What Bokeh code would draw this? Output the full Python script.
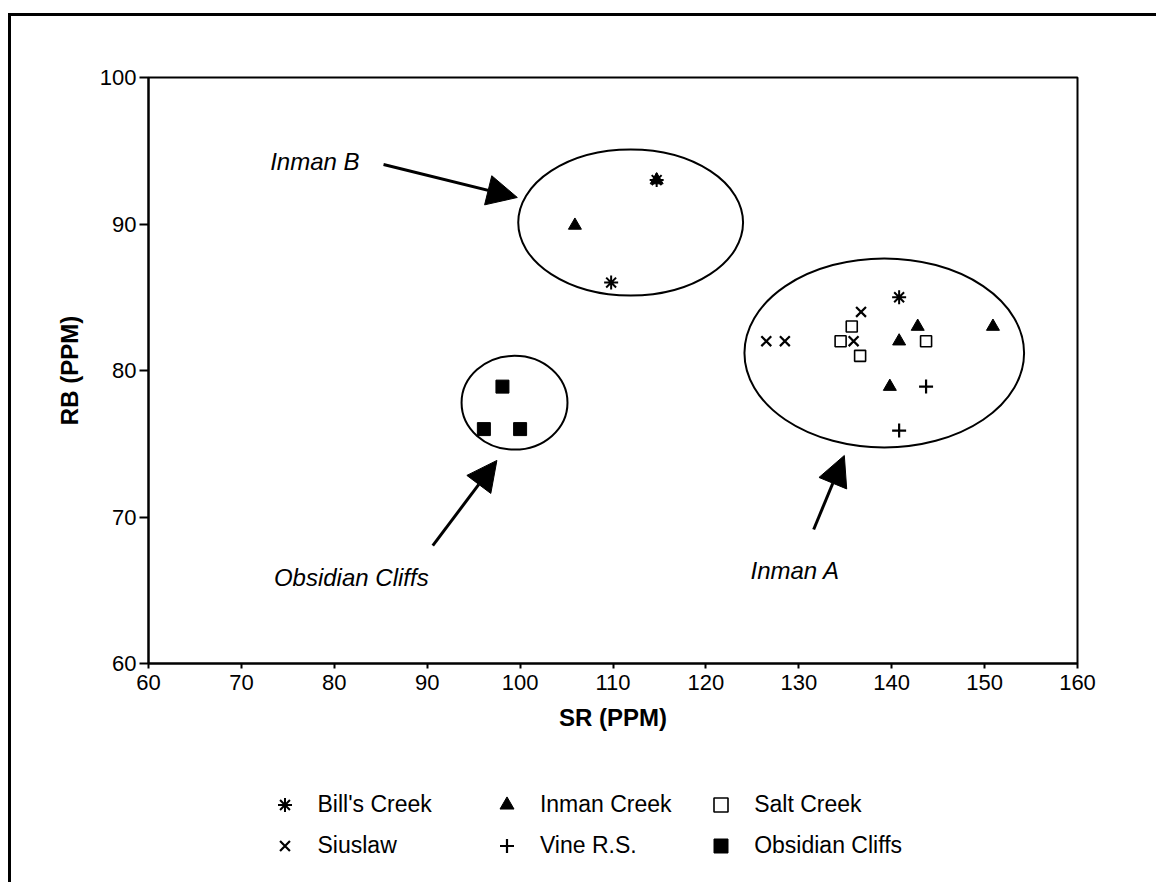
from bokeh.plotting import figure
from bokeh.layouts import column
from bokeh.models import Arrow, NormalHead, Legend, LegendItem, FixedTicker, Range1d
from bokeh.core.properties import value
from bokeh.embed import file_html
from bokeh.resources import INLINE

FONT = "Liberation Sans"

# ---- data (SR ppm, RB ppm) ----
bills_sr = [114.7, 109.8, 140.8]
bills_rb = [93.0, 86.0, 85.0]
inman_sr = [114.7, 105.9, 142.8, 150.9, 140.8, 139.8]
inman_rb = [93.0, 89.9, 83.0, 83.0, 82.0, 78.9]
salt_sr = [135.7, 134.5, 136.6, 143.7]
salt_rb = [83.0, 82.0, 81.0, 82.0]
siuslaw_sr = [136.7, 126.5, 128.5, 135.9]
siuslaw_rb = [84.0, 82.0, 82.0, 82.0]
vine_sr = [143.7, 140.8]
vine_rb = [78.9, 75.9]
obsidian_sr = [98.1, 96.1, 100.0]
obsidian_rb = [78.9, 76.0, 76.0]

# ---- group ellipses ----
group_names = ["Inman B", "Inman A", "Obsidian Cliffs"]
ell_x = [111.9, 139.2, 99.4]
ell_y = [90.1, 81.2, 77.8]
ell_w = [24.2, 30.1, 11.4]
ell_h = [9.97, 12.9, 6.4]

# ---- annotation labels and arrows ----
label_x = [73.1, 124.8, 73.5]
label_y = [94.3, 66.35, 65.87]
arrow_x0 = [85.3, 131.6, 90.6]
arrow_y0 = [94.06, 69.15, 68.05]
arrow_x1 = [99.7, 134.9, 97.5]
arrow_y1 = [91.81, 74.2, 73.86]

x_ticks = [60, 70, 80, 90, 100, 110, 120, 130, 140, 150, 160]
y_ticks = [60, 70, 80, 90, 100]

legend_names = ["Bill's Creek", "Inman Creek", "Salt Creek", "Siuslaw", "Vine R.S.", "Obsidian Cliffs"]
# trailing spaces widen the first two legend columns to match the reference spacing
legend_pad = [8, 4, 0, 0, 0, 0]
legend_marker_size = [16, 17, 14, 16, 17, 15]

p = figure(width=1145, height=734, output_backend="svg", toolbar_location=None,
           x_range=Range1d(60, 160), y_range=Range1d(60, 100),
           min_border_left=137, min_border_right=79, min_border_top=61, min_border_bottom=87,
           x_axis_label="SR (PPM)", y_axis_label="RB (PPM)")
p.grid.visible = False
p.outline_line_color = "black"
p.outline_line_width = 2
p.background_fill_color = "white"
p.border_fill_color = "white"

for ax in (p.xaxis[0], p.yaxis[0]):
    ax.axis_line_width = 2
    ax.major_tick_line_width = 2
    ax.minor_tick_line_color = None
    ax.major_tick_in = 0
    ax.major_label_text_font = FONT
    ax.major_label_text_font_size = "22px"
    ax.major_label_text_color = "black"
    ax.axis_label_text_font = FONT
    ax.axis_label_text_font_style = "bold"
    ax.axis_label_text_font_size = "24px"
    ax.axis_label_text_color = "black"
p.xaxis.ticker = FixedTicker(ticks=x_ticks)
p.yaxis.ticker = FixedTicker(ticks=y_ticks)
p.xaxis.major_tick_out = 5
p.xaxis.major_label_standoff = 6
p.xaxis.axis_label_standoff = 11
p.yaxis.major_tick_out = 9
p.yaxis.major_label_standoff = 3
p.yaxis.axis_label_standoff = 14

# ellipses
p.ellipse(x=ell_x, y=ell_y, width=ell_w, height=ell_h, fill_color=None,
          line_color="black", line_width=2)

# marker styles shared by plot and legend
styles = [
    dict(marker="asterisk", size=14, line_color="black", line_width=2),
    dict(marker="triangle", size=13, fill_color="black", line_color="black"),
    dict(marker="square", size=11, fill_color="white", line_color="black", line_width=1.6),
    dict(marker="x", size=14, line_color="black", line_width=2.2),
    dict(marker="cross", size=14, line_color="black", line_width=2.2),
    dict(marker="square", size=13, fill_color="black", line_color="black"),
]
series = [(bills_sr, bills_rb), (inman_sr, inman_rb), (salt_sr, salt_rb),
          (siuslaw_sr, siuslaw_rb), (vine_sr, vine_rb), (obsidian_sr, obsidian_rb)]
for (xs, ys), st in zip(series, styles):
    p.scatter(xs, ys, **st)

# labels
p.text(x=label_x, y=label_y, text=group_names, text_font=value(FONT), text_font_style="italic",
       text_font_size="24px", text_baseline="alphabetic", text_align="left", text_color="black")

# arrows
for x0, y0, x1, y1 in zip(arrow_x0, arrow_y0, arrow_x1, arrow_y1):
    p.add_layout(Arrow(end=NormalHead(size=30, fill_color="black", line_color="black"),
                       x_start=x0, y_start=y0, x_end=x1, y_end=y1,
                       line_color="black", line_width=3))

# legend-only strip below the plot (series points fall outside its 0..1 range)
p2 = figure(width=1145, height=132, output_backend="svg", toolbar_location=None,
            x_range=Range1d(0, 1), y_range=Range1d(0, 1),
            min_border_left=0, min_border_right=0, min_border_top=0, min_border_bottom=0)
p2.axis.visible = False
p2.grid.visible = False
p2.outline_line_color = None
items = []
for name, pad, msize, (xs, ys), st in zip(legend_names, legend_pad, legend_marker_size, series, styles):
    st2 = dict(st)
    st2["size"] = msize
    r = p2.scatter(xs, ys, **st2)
    items.append(LegendItem(label=name + " " * pad, renderers=[r]))
leg = Legend(items=items, orientation="horizontal", ncols=3, location=(118.5, 19.5),
             glyph_width=35, glyph_height=35, label_standoff=16,
             spacing=6, padding=0, margin=0, border_line_color=None,
             background_fill_alpha=0, label_text_font=FONT, label_text_font_size="23px",
             label_text_color="black")
p2.add_layout(leg)

layout = column(p, p2, spacing=0,
                styles={"border-top": "3px solid black", "border-left": "3px solid black",
                        "margin-top": "13px", "margin-left": "8px"})

open("out.html", "w").write(file_html(layout, INLINE))
